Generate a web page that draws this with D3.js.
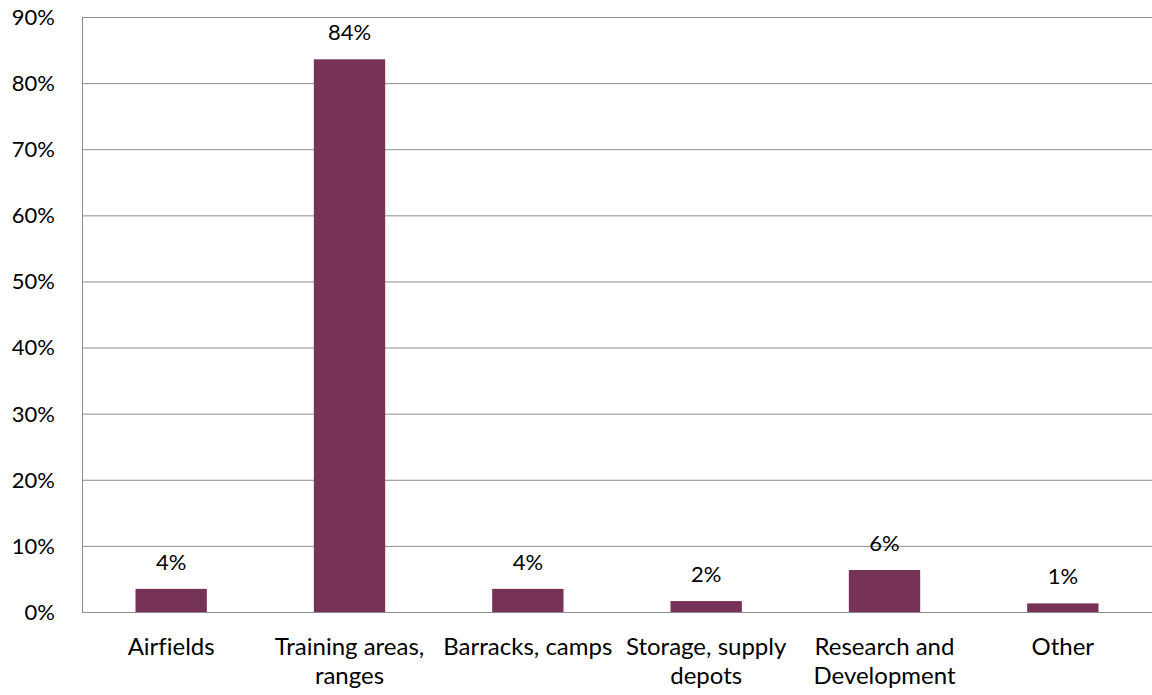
<!DOCTYPE html>
<html><head><meta charset="utf-8">
<script src="https://cdn.jsdelivr.net/npm/d3@7"></script>
<style>body{margin:0;background:#fff;} text{font-family:Lato,"Open Sans",sans-serif;fill:#000;font-variant-ligatures:none;}</style>
</head><body><svg id="c" width="1152" height="695"></svg>
<script>
const categories = [["Airfields"],["Training areas,","ranges"],["Barracks, camps"],["Storage, supply","depots"],["Research and","Development"],["Other"]];
const values = [3.5, 83.6, 3.5, 1.65, 6.35, 1.3];
const labels = ["4%","84%","4%","2%","6%","1%"];
const yTicks = [0,10,20,30,40,50,60,70,80,90];

const svg = d3.select("#c");
const L = 82, R = 1152, T = 17, B = 612;
const x = d3.scaleBand().domain(d3.range(categories.length)).range([L, R]).paddingInner(0.6).paddingOuter(0.3);
const y = d3.scaleLinear().domain([0, 90]).range([B, T]);

svg.append("g").selectAll("line").data(yTicks).join("line")
  .attr("x1", L).attr("x2", R).attr("y1", d => y(d)+0.5).attr("y2", d => y(d)+0.5)
  .attr("stroke", "#8c8c8c").attr("stroke-width", 1);
svg.append("line").attr("x1", L+0.5).attr("x2", L+0.5).attr("y1", T).attr("y2", B).attr("stroke", "#8c8c8c");

svg.append("g").selectAll("text").data(yTicks).join("text")
  .attr("x", 55).attr("y", d => y(d)).attr("dy", "0.36em").attr("text-anchor", "end")
  .style("font-size", "22px").text(d => d + "%");

svg.append("g").selectAll("rect").data(values).join("rect")
  .attr("x", (d,i) => x(i)).attr("width", x.bandwidth())
  .attr("y", d => y(d)).attr("height", d => B - y(d)).attr("fill", "#763257");

svg.append("g").selectAll("text").data(values).join("text")
  .attr("x", (d,i) => x(i) + x.bandwidth()/2).attr("y", d => y(d) - 19)
  .attr("text-anchor", "middle").style("font-size", "22px").text((d,i) => labels[i]);

const cg = svg.append("g").selectAll("text").data(categories).join("text")
  .attr("x", (d,i) => x(i) + x.bandwidth()/2).attr("y", 655)
  .attr("text-anchor", "middle").style("font-size", "24px");
cg.each(function(d){
  const t = d3.select(this);
  d.forEach((s,k) => t.append("tspan").attr("x", t.attr("x")).attr("y", 655 + k*29).text(s));
});
</script></body></html>
